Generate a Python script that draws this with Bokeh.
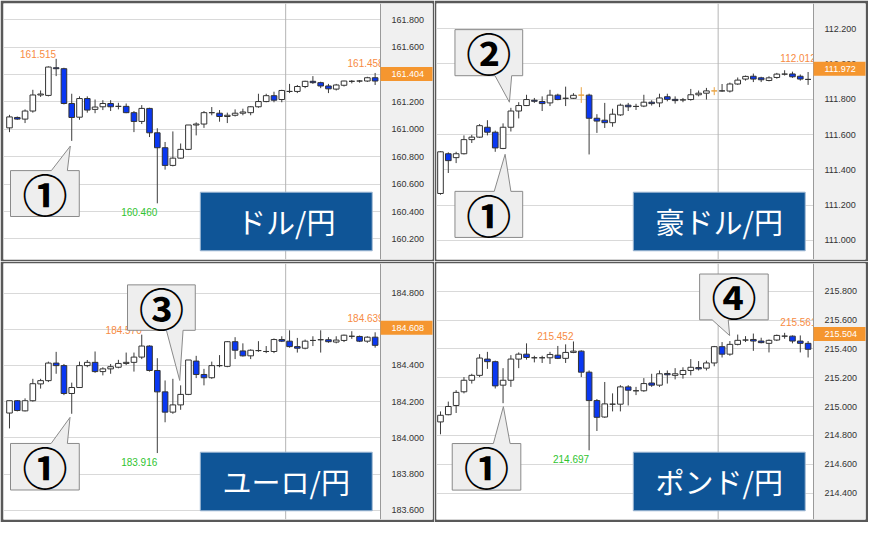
from bokeh.plotting import figure
from bokeh.layouts import row, column
from bokeh.models import (Range1d, SingleIntervalTicker, PrintfTickFormatter, Span,
                          ColumnDataSource)
from bokeh.core.properties import value
from bokeh.embed import file_html
from bokeh.resources import INLINE

# ---------------- data ----------------
usd_open = [161.011, 161.087, 161.075, 161.134, 161.251, 161.248, 161.450, 161.443, 161.189, 161.089,
            161.225, 161.146, 161.165, 161.189, 161.168, 161.168, 161.122, 161.058, 161.153, 160.975,
            160.866, 160.737, 160.790, 160.854, 161.032, 161.039, 161.122, 161.118, 161.094, 161.103,
            161.118, 161.122, 161.165, 161.203, 161.246, 161.218, 161.277, 161.277, 161.313, 161.351,
            161.341, 161.317, 161.294, 161.322, 161.351, 161.353, 161.353, 161.377]
usd_high = [161.106, 161.094, 161.146, 161.289, 161.284, 161.460, 161.515, 161.450, 161.260, 161.241,
            161.241, 161.218, 161.213, 161.213, 161.194, 161.189, 161.134, 161.177, 161.158, 161.008,
            160.908, 160.985, 160.897, 161.032, 161.051, 161.134, 161.163, 161.141, 161.122, 161.146,
            161.151, 161.170, 161.260, 161.260, 161.275, 161.289, 161.332, 161.324, 161.355, 161.389,
            161.348, 161.332, 161.332, 161.355, 161.360, 161.360, 161.384, 161.412]
usd_low = [160.980, 161.070, 161.046, 161.122, 161.237, 161.241, 161.389, 161.182, 160.916, 161.070,
           161.122, 161.118, 161.141, 161.134, 161.146, 161.118, 160.980, 161.039, 160.944, 160.460,
           160.706, 160.730, 160.785, 160.849, 160.956, 161.011, 161.103, 161.056, 161.046, 161.094,
           161.103, 161.103, 161.158, 161.198, 161.198, 161.198, 161.265, 161.265, 161.301, 161.332,
           161.301, 161.265, 161.284, 161.313, 161.336, 161.341, 161.346, 161.324]
usd_close = [161.091, 161.075, 161.134, 161.251, 161.258, 161.455, 161.443, 161.189, 161.087, 161.225,
             161.141, 161.163, 161.189, 161.165, 161.168, 161.122, 161.058, 161.153, 160.975, 160.866,
             160.737, 160.790, 160.854, 161.032, 161.039, 161.122, 161.122, 161.094, 161.103, 161.118,
             161.127, 161.165, 161.203, 161.246, 161.213, 161.284, 161.277, 161.313, 161.351, 161.341,
             161.317, 161.296, 161.324, 161.353, 161.351, 161.353, 161.377, 161.353]

aud_open = [111.266, 111.491, 111.469, 111.491, 111.571, 111.585, 111.641, 111.613, 111.521, 111.641,
            111.733, 111.764, 111.794, 111.787, 111.779, 111.823, 111.805, 111.805, 111.823, 111.823,
            111.692, 111.681, 111.667, 111.711, 111.766, 111.759, 111.761, 111.783, 111.779, 111.814,
            111.799, 111.796, 111.798, 111.825, 111.834, 111.847, 111.847, 111.846, 111.886, 111.914,
            111.930, 111.921, 111.906, 111.923, 111.942, 111.943, 111.930, 111.912]
aud_high = [111.506, 111.499, 111.502, 111.595, 111.598, 111.659, 111.681, 111.622, 111.663, 111.751,
            111.783, 111.825, 111.807, 111.816, 111.853, 111.831, 111.871, 111.834, 111.868, 111.831,
            111.715, 111.779, 111.746, 111.775, 111.779, 111.774, 111.825, 111.794, 111.831, 111.831,
            111.816, 111.807, 111.858, 111.849, 111.864, 111.868, 111.886, 111.894, 111.923, 111.934,
            111.945, 111.927, 111.930, 111.949, 111.964, 111.956, 111.940, 111.954]
aud_low = [111.259, 111.382, 111.438, 111.487, 111.552, 111.580, 111.595, 111.502, 111.517, 111.617,
           111.691, 111.761, 111.779, 111.733, 111.761, 111.794, 111.761, 111.801, 111.779, 111.487,
           111.609, 111.637, 111.644, 111.705, 111.733, 111.739, 111.755, 111.764, 111.755, 111.788,
           111.775, 111.783, 111.792, 111.816, 111.798, 111.823, 111.842, 111.838, 111.881, 111.905,
           111.897, 111.897, 111.901, 111.916, 111.934, 111.921, 111.905, 111.881]
aud_close = [111.502, 111.452, 111.491, 111.571, 111.585, 111.650, 111.613, 111.524, 111.641, 111.733,
             111.764, 111.798, 111.788, 111.775, 111.823, 111.798, 111.805, 111.822, 111.823, 111.692,
             111.676, 111.667, 111.715, 111.766, 111.757, 111.759, 111.783, 111.775, 111.807, 111.799,
             111.792, 111.796, 111.825, 111.834, 111.847, 111.847, 111.847, 111.886, 111.908, 111.929,
             111.914, 111.910, 111.921, 111.942, 111.942, 111.927, 111.914, 111.912]
aud_marked = [18, 35]

eur_open = [184.137, 184.205, 184.149, 184.205, 184.298, 184.316, 184.413, 184.399, 184.245, 184.278,
            184.399, 184.417, 184.366, 184.381, 184.390, 184.411, 184.417, 184.446, 184.507, 184.372,
            184.254, 184.142, 184.182, 184.240, 184.424, 184.350, 184.332, 184.399, 184.395, 184.531,
            184.480, 184.453, 184.482, 184.477, 184.477, 184.543, 184.534, 184.504, 184.495, 184.538,
            184.542, 184.542, 184.529, 184.538, 184.561, 184.560, 184.534, 184.556]
eur_high = [184.205, 184.209, 184.218, 184.326, 184.326, 184.421, 184.475, 184.408, 184.305, 184.421,
            184.430, 184.477, 184.390, 184.408, 184.431, 184.471, 184.471, 184.570, 184.511, 184.440,
            184.317, 184.326, 184.290, 184.430, 184.453, 184.381, 184.421, 184.457, 184.534, 184.556,
            184.522, 184.489, 184.534, 184.507, 184.549, 184.561, 184.594, 184.552, 184.543, 184.561,
            184.594, 184.556, 184.561, 184.570, 184.589, 184.565, 184.561, 184.583]
eur_low = [184.052, 184.146, 184.146, 184.200, 184.272, 184.308, 184.354, 184.236, 184.133, 184.276,
           184.390, 184.359, 184.345, 184.354, 184.384, 184.402, 184.366, 184.435, 184.366, 183.916,
           184.086, 184.133, 184.155, 184.236, 184.330, 184.290, 184.326, 184.390, 184.390, 184.435,
           184.449, 184.435, 184.475, 184.468, 184.468, 184.529, 184.498, 184.471, 184.489, 184.507,
           184.471, 184.525, 184.522, 184.529, 184.547, 184.529, 184.525, 184.498]
eur_close = [184.205, 184.151, 184.205, 184.299, 184.316, 184.413, 184.399, 184.245, 184.278, 184.399,
             184.417, 184.366, 184.381, 184.393, 184.411, 184.417, 184.446, 184.507, 184.372, 184.254,
             184.142, 184.182, 184.240, 184.430, 184.350, 184.332, 184.399, 184.399, 184.531, 184.484,
             184.453, 184.484, 184.482, 184.477, 184.543, 184.534, 184.504, 184.495, 184.534, 184.538,
             184.542, 184.531, 184.540, 184.567, 184.561, 184.534, 184.556, 184.511]

gbp_open = [214.894, 214.944, 215.008, 215.103, 215.183, 215.217, 215.330, 215.312, 215.149, 215.183,
            215.330, 215.364, 215.339, 215.339, 215.339, 215.357, 215.335, 215.376, 215.385, 215.239,
            215.042, 214.928, 215.017, 215.017, 215.137, 215.110, 215.110, 215.164, 215.149, 215.230,
            215.217, 215.223, 215.251, 215.271, 215.267, 215.303, 215.416, 215.364, 215.432, 215.462,
            215.466, 215.455, 215.439, 215.462, 215.489, 215.489, 215.455, 215.439]
gbp_high = [214.967, 215.035, 215.114, 215.205, 215.228, 215.364, 215.380, 215.319, 215.267, 215.357,
            215.376, 215.439, 215.353, 215.353, 215.380, 215.421, 215.432, 215.452, 215.391, 215.251,
            215.053, 215.171, 215.092, 215.149, 215.149, 215.137, 215.198, 215.228, 215.251, 215.251,
            215.267, 215.273, 215.330, 215.316, 215.319, 215.421, 215.448, 215.455, 215.500, 215.489,
            215.507, 215.478, 215.466, 215.500, 215.512, 215.494, 215.494, 215.455]
gbp_low = [214.808, 214.940, 214.956, 215.092, 215.160, 215.205, 215.262, 215.126, 215.024, 215.137,
           215.267, 215.326, 215.307, 215.303, 215.296, 215.330, 215.303, 215.371, 215.205, 214.697,
           214.831, 214.922, 214.967, 214.967, 215.008, 215.080, 215.103, 215.137, 215.137, 215.160,
           215.189, 215.194, 215.217, 215.251, 215.251, 215.280, 215.341, 215.353, 215.425, 215.448,
           215.387, 215.439, 215.376, 215.455, 215.471, 215.439, 215.376, 215.341]
gbp_close = [214.940, 215.001, 215.099, 215.183, 215.217, 215.337, 215.312, 215.144, 215.183, 215.330,
             215.364, 215.341, 215.339, 215.339, 215.362, 215.335, 215.376, 215.385, 215.239, 215.042,
             214.926, 215.019, 215.017, 215.137, 215.114, 215.110, 215.160, 215.149, 215.228, 215.221,
             215.228, 215.251, 215.273, 215.262, 215.303, 215.416, 215.364, 215.432, 215.460, 215.462,
             215.455, 215.444, 215.460, 215.494, 215.489, 215.455, 215.439, 215.398]

titles = ["ドル/円", "豪ドル/円", "ユーロ/円", "ポンド/円"]
current_prices = [161.404, 111.972, 184.608, 215.504]
y_ranges = [(160.05, 161.919), (110.892, 112.342), (183.549, 184.963), (214.217, 215.993)]
x_ranges = [(-0.77, 47.69), (-0.51, 47.69), (-0.77, 47.69), (-0.51, 47.69)]
session_break = 35.5
# (index, value) of marked highs / lows, and value of the high label at the right edge
high_marks = [[(6, 161.515)], [], [(17, 184.570)], [(17, 215.452)]]
low_marks = [[(19, 160.460)], [], [(19, 183.916)], [(19, 214.697)]]
right_marks = [161.458, 112.012, 184.639, 215.561]
right_mark_x = 43.45
# callouts: label, pointer side, box (x0, x1, y0, y1), pointer base (x0, x1), tip (x, y)
callouts = [
    [("①", "top", (0.13, 8.97, 160.364, 160.699), (5.38, 7.44), (7.82, 160.878))],
    [("②", "bottom", (1.85, 10.51, 111.933, 112.194), (6.97, 9.10), (8.81, 111.783)),
     ("①", "top", (1.85, 10.51, 111.017, 111.278), (6.87, 9.00), (8.26, 111.488))],
    [("①", "top", (0.13, 8.97, 183.712, 183.969), (5.35, 7.44), (7.78, 184.113)),
     ("③", "bottom", (15.17, 23.88, 184.594, 184.845), (20.17, 22.31), (21.88, 184.317))],
    [("①", "top", (1.50, 10.27, 214.421, 214.744), (6.76, 8.90), (8.04, 215.000)),
     ("④", "bottom", (33.13, 41.90, 215.602, 215.920), (34.74, 36.79), (36.97, 215.493))],
]

# ---------------- style ----------------
DARK = "#595959"
AXIS_BG = "#f0f0f0"
GRID = "#d9d9d9"
DOWN = "#0a38f2"
EDGE = "#333333"
WICK = "#3c3c3c"
MARK = "#e9a444"
ORANGE_TXT = "#f78b43"
GREEN_TXT = "#2fc42f"
PRICE_BG = "#f5962f"
TITLE_BG = "#0f5597"
NUM_FONT = "Liberation Sans"
JP_FONT = "Noto Sans CJK JP"
TITLE_FRAC = (0.522, 0.978, 0.034, 0.263)
FIG_W, FIG_H = 434, 261
PLOT_W, AXIS_W = 377, 52


def make_panel(k, o, h, l, c, marked, borders):
    xr0, xr1 = x_ranges[k]
    yr0, yr1 = y_ranges[k]
    bl, bt, bb, brt = borders
    frame_h = FIG_H - bt - bb
    px_x = (xr1 - xr0) / PLOT_W          # data units per pixel along x
    px_y = (yr1 - yr0) / frame_h         # data units per pixel along y
    xend = xr1 + AXIS_W * px_x           # the price-axis strip lives inside the frame
    p = figure(width=FIG_W, height=FIG_H, output_backend="svg", toolbar_location=None,
               x_range=Range1d(xr0, xend), y_range=Range1d(yr0, yr1),
               x_axis_location=None, y_axis_location="right",
               min_border_left=bl, min_border_top=bt, min_border_bottom=bb, min_border_right=brt)
    p.border_fill_color = DARK
    p.background_fill_color = "white"
    p.outline_line_color = None
    p.xgrid.visible = False
    p.ygrid.ticker = SingleIntervalTicker(interval=0.2, num_minor_ticks=0)
    p.ygrid.grid_line_color = GRID

    ax = p.yaxis[0]
    ax.fixed_location = xr1
    ax.ticker = SingleIntervalTicker(interval=0.2, num_minor_ticks=0)
    ax.formatter = PrintfTickFormatter(format="%.3f")
    ax.major_tick_out = 0
    ax.major_tick_in = 0
    ax.minor_tick_out = 0
    ax.minor_tick_in = 0
    ax.major_label_standoff = 11
    ax.major_label_text_font = NUM_FONT
    ax.major_label_text_font_size = "9px"
    ax.major_label_text_color = "#333333"
    ax.axis_line_color = "#9a9a9a"

    p.add_layout(Span(location=session_break, dimension="height", line_color="#b5b5b5",
                      line_width=1, level="underlay"))

    xs = list(range(len(o)))
    up = [ci >= oi for oi, ci in zip(o, c)]
    src = ColumnDataSource(dict(
        x=xs, high=h, low=l,
        top=[max(a, b) for a, b in zip(o, c)],
        bottom=[min(a, b) for a, b in zip(o, c)],
        fill=["white" if u else DOWN for u in up],
        line=[MARK if i in marked else EDGE for i in xs],
        wick=[MARK if i in marked else WICK for i in xs],
    ))
    p.segment(x0="x", y0="low", x1="x", y1="high", line_color="wick", line_width=1, source=src)
    p.vbar(x="x", top="top", bottom="bottom", width=0.72, fill_color="fill",
           line_color="line", line_width=1, source=src)

    # high / low labels
    for (i, v) in high_marks[k]:
        p.text(x=[i], y=[v], text=[f"{v:.3f}"], text_align="right", text_baseline="bottom",
               y_offset=-1, text_font=value(NUM_FONT), text_font_size="10px",
               text_color=ORANGE_TXT)
    for (i, v) in low_marks[k]:
        p.text(x=[i], y=[v], text=[f"{v:.3f}"], text_align="right", text_baseline="top",
               y_offset=5, text_font=value(NUM_FONT), text_font_size="10px",
               text_color=GREEN_TXT)
    rv = right_marks[k]
    p.text(x=[right_mark_x], y=[rv], text=[f"{rv:.3f}"], text_align="left", text_baseline="bottom",
           text_font=value(NUM_FONT), text_font_size="10px", text_color=ORANGE_TXT)

    # callouts
    for (lab, side, box, base, tip) in callouts[k]:
        x0, x1, y0, y1 = box
        bx0, bx1 = base
        tx, ty = tip
        if side == "top":
            qx = [x0, x1, x1, bx1, tx, bx0, x0]
            qy = [y0, y0, y1, y1, ty, y1, y1]
        else:
            qx = [x0, x1, x1, bx1, tx, bx0, x0]
            qy = [y1, y1, y0, y0, ty, y0, y0]
        p.patch(qx, qy, fill_color="#eeeeee", line_color="#8a8a8a", line_width=1)
        p.text(x=[(x0 + x1) / 2], y=[(y0 + y1) / 2], text=[lab], text_align="center",
               text_baseline="middle", text_font=value(JP_FONT), text_font_size="45px",
               text_font_style="bold", text_color="black")

    # title box
    fx0, fx1, fy0, fy1 = TITLE_FRAC
    qx0 = xr0 + fx0 * (xr1 - xr0)
    qx1 = xr0 + fx1 * (xr1 - xr0)
    qy0 = yr0 + fy0 * (yr1 - yr0)
    qy1 = yr0 + fy1 * (yr1 - yr0)
    p.quad(left=[qx0], right=[qx1], bottom=[qy0], top=[qy1], fill_color=TITLE_BG,
           line_color="#9fb8d3", line_width=1)
    p.text(x=[(qx0 + qx1) / 2], y=[(qy0 + qy1) / 2], text=[titles[k]], text_align="center",
           text_baseline="middle", text_font=value(JP_FONT), text_font_size="29px",
           text_color="white")

    # price-axis strip (grey) and current price tag
    p.quad(left=[xr1], right=[xend], bottom=[yr0], top=[yr1], fill_color=AXIS_BG,
           line_color=None)
    cur = current_prices[k]
    p.quad(left=[xr1], right=[xend], bottom=[cur - 7 * px_y], top=[cur + 7 * px_y],
           fill_color=PRICE_BG, line_color=None, level="overlay")
    p.text(x=[xr1 + 11 * px_x], y=[cur], text=[f"{cur:.3f}"], text_align="left",
           text_baseline="middle", text_font=value(NUM_FONT), text_font_size="9px",
           text_color="white", level="overlay")
    return p


p1 = make_panel(0, usd_open, usd_high, usd_low, usd_close, [], (3, 3, 2, 2))
p2 = make_panel(1, aud_open, aud_high, aud_low, aud_close, aud_marked, (2, 3, 2, 3))
p3 = make_panel(2, eur_open, eur_high, eur_low, eur_close, [], (3, 2, 3, 2))
p4 = make_panel(3, gbp_open, gbp_high, gbp_low, gbp_close, [], (2, 2, 3, 3))

layout = column(row(p1, p2), row(p3, p4))
open("out.html", "w").write(file_html(layout, INLINE))
